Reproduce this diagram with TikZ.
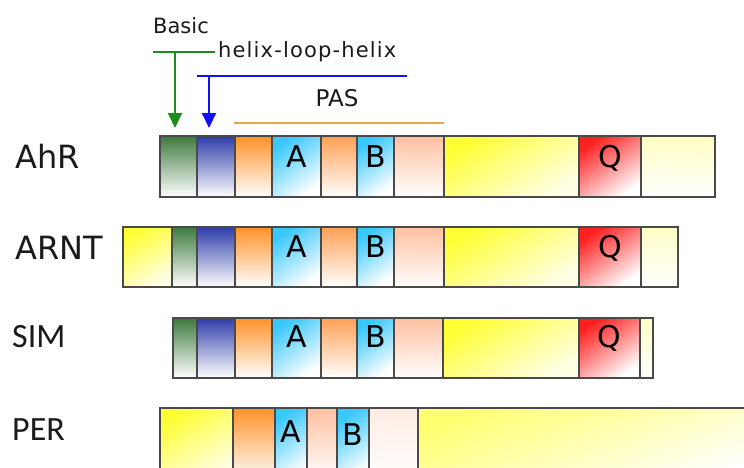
\documentclass[tikz,border=0pt]{standalone}
\usepackage{fontspec}
\setmainfont{DejaVu Sans}
\newfontfamily\calfont{Carlito}
\usetikzlibrary{arrows.meta}
\definecolor{segline}{HTML}{4A4A4A}
\definecolor{cgreen}{HTML}{3D7A3D}
\definecolor{cblue}{HTML}{2E3DAA}
\definecolor{corange}{HTML}{FF9128}
\definecolor{corangeb}{HTML}{FFA055}
\definecolor{csalmon}{HTML}{FFC0A0}
\definecolor{cpale}{HTML}{FFECE2}
\definecolor{cAB}{HTML}{38C8FA}
\definecolor{cyellow}{HTML}{FFFF33}
\definecolor{cyellowend}{HTML}{FFFFE6}
\definecolor{cQ}{HTML}{FF2020}
\definecolor{clight}{HTML}{FFFFC4}
\definecolor{cperyel}{HTML}{FFFF70}
\definecolor{agreen}{HTML}{1E8C1E}
\definecolor{ablue}{HTML}{1010F5}
\definecolor{aorange}{HTML}{E6A84F}
\definecolor{txt}{HTML}{1A1A1A}
\tikzset{
  segbase/.style={draw=segline, line width=1.4pt, inner sep=0pt, outer sep=0pt},
  sgreen/.style={top color=cgreen, bottom color=white},
  sblue/.style={top color=cblue, bottom color=white},
  sorange/.style={top color=corange, bottom color=white},
  sorangeb/.style={top color=corangeb, bottom color=white},
  ssalmon/.style={top color=csalmon, bottom color=white},
  spale/.style={top color=cpale, bottom color=white},
  sAB/.style={top color=cAB, bottom color=white, shading angle=35},
  syellow/.style={top color=cyellow, bottom color=cyellowend, shading angle=30},
  sQ/.style={top color=cQ, bottom color=white, shading angle=35},
  slight/.style={top color=clight, bottom color=white},
  speryel/.style={top color=cperyel, bottom color=white, shading angle=20},
  seglabel/.style={font=\fontsize{30}{30}\selectfont, text=black, inner sep=0pt},
  rowlabel/.style={font=\fontsize{32}{32}\selectfont, text=txt, inner sep=0pt, anchor=base west},
  rowlabelc/.style={font=\calfont\fontsize{34}{34}\selectfont, text=txt, inner sep=0pt, anchor=base west},
  annot/.style={font=\fontsize{21}{21}\selectfont, text=txt, inner sep=0pt},
  gline/.style={draw=agreen, line width=2pt},
  bline/.style={draw=ablue, line width=2pt},
  oline/.style={draw=aorange, line width=2.2pt},
  garrow/.style={gline, -{Triangle[width=14pt,length=15pt]}},
  barrow/.style={bline, -{Triangle[width=14pt,length=15pt]}},
}
% name, x1, x2, y1, y2, style
\newcommand\segbox[6]{%
  \node[segbase,#6,minimum width={(#3-#2)*1pt},minimum height={(#5-#4)*1pt}] (#1) at ({(#2+#3)/2},{(#4+#5)/2}) {};}
% name, x1, x2, y1, y2, style, text, text offset from top
\newcommand\seglab[8]{%
  \segbox{#1}{#2}{#3}{#4}{#5}{#6}%
  \node[seglabel] (#1t) at ({(#2+#3)/2},{#4+#8}) {#7};}
\begin{document}
\begin{tikzpicture}[x=1pt,y=-1pt]
\path[use as bounding box, clip] (0,0) rectangle (744,467);
\fill[white] (0,0) rectangle (744,467);

% annotations
\node[annot, anchor=base west] (basic) at (153,33) {Basic};
\node[annot, anchor=base west] (hlh) at (218,57) {\addfontfeature{LetterSpace=5.5}helix-loop-helix};
\node[annot, font=\fontsize{23}{23}\selectfont] (pas) at (337,98) {PAS};
\coordinate (gL) at (153,52);
\coordinate (gR) at (215,52);
\coordinate (gT) at (175,52);
\coordinate (gtip) at (175,128);
\draw[gline] (gL) -- (gR);
\draw[garrow] (gT) -- (gtip);
\coordinate (bL) at (197,76);
\coordinate (bR) at (407,76);
\coordinate (bT) at (209,76);
\coordinate (btip) at (209,128);
\draw[bline] (bL) -- (bR);
\draw[barrow] (bT) -- (btip);
\coordinate (oL) at (234,123);
\coordinate (oR) at (444,123);
\draw[oline] (oL) -- (oR);

% AhR
\node[rowlabel] (lahr) at (15,168) {AhR};
\segbox{a1}{160}{197}{136}{197}{sgreen}
\segbox{a2}{197}{235}{136}{197}{sblue}
\segbox{a3}{235}{272}{136}{197}{sorange}
\seglab{a4}{272}{321}{136}{197}{sAB}{A}{21}
\segbox{a5}{321}{357}{136}{197}{sorangeb}
\seglab{a6}{357}{394}{136}{197}{sAB}{B}{21}
\segbox{a7}{394}{444}{136}{197}{ssalmon}
\segbox{a8}{444}{579}{136}{197}{syellow}
\seglab{a9}{579}{641}{136}{197}{sQ}{Q}{22}
\segbox{a10}{641}{715}{136}{197}{slight}

% ARNT
\node[rowlabel] (larnt) at (15,259) {ARNT};
\segbox{r0}{123}{172}{227}{287}{syellow}
\segbox{r1}{172}{197}{227}{287}{sgreen}
\segbox{r2}{197}{235}{227}{287}{sblue}
\segbox{r3}{235}{272}{227}{287}{sorange}
\seglab{r4}{272}{321}{227}{287}{sAB}{A}{20}
\segbox{r5}{321}{357}{227}{287}{sorangeb}
\seglab{r6}{357}{394}{227}{287}{sAB}{B}{20}
\segbox{r7}{394}{444}{227}{287}{ssalmon}
\segbox{r8}{444}{579}{227}{287}{syellow}
\seglab{r9}{579}{641}{227}{287}{sQ}{Q}{21}
\segbox{r10}{641}{678}{227}{287}{slight}

% SIM
\node[rowlabelc] (lsim) at (12,347) {SIM};
\segbox{s1}{173}{197}{318}{378}{sgreen}
\segbox{s2}{197}{235}{318}{378}{sblue}
\segbox{s3}{235}{272}{318}{378}{sorange}
\seglab{s4}{272}{321}{318}{378}{sAB}{A}{19}
\segbox{s5}{321}{357}{318}{378}{sorangeb}
\seglab{s6}{357}{394}{318}{378}{sAB}{B}{19}
\segbox{s7}{394}{443}{318}{378}{ssalmon}
\segbox{s8}{443}{579}{318}{378}{syellow}
\seglab{s9}{579}{640}{318}{378}{sQ}{Q}{20}
\segbox{s10}{640}{653}{318}{378}{slight}

% PER
\node[rowlabelc] (lper) at (12,440) {PER};
\segbox{p1}{160}{233}{408}{480}{syellow}
\segbox{p2}{233}{275}{408}{480}{sorange}
\seglab{p3}{275}{307}{408}{480}{sAB}{A}{24}
\segbox{p4}{307}{337}{408}{480}{ssalmon}
\seglab{p5}{337}{369}{408}{480}{sAB}{B}{27}
\segbox{p6}{369}{418}{408}{480}{spale}
\segbox{p7}{418}{760}{408}{480}{speryel}
\end{tikzpicture}
\end{document}
